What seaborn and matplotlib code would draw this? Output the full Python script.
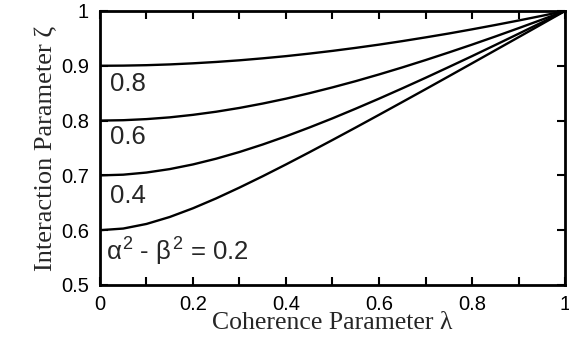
import seaborn as sns
import matplotlib.pyplot as plt
import matplotlib.ticker as mticker
import pandas as pd
import numpy as np

# coherence parameter values
lam = [0.0, 0.05, 0.1, 0.15, 0.2, 0.25, 0.3, 0.35, 0.4, 0.45, 0.5,
       0.55, 0.6, 0.65, 0.7, 0.75, 0.8, 0.85, 0.9, 0.95, 1.0]

# interaction parameter for each alpha^2 - beta^2 value
zeta_08 = [0.900, 0.9003, 0.9011, 0.9025, 0.9045, 0.9070, 0.9100, 0.9136, 0.9176, 0.9222, 0.9272,
           0.9327, 0.9386, 0.9450, 0.9518, 0.9589, 0.9665, 0.9744, 0.9826, 0.9911, 1.0]
zeta_06 = [0.800, 0.8007, 0.8027, 0.8059, 0.8105, 0.8162, 0.8231, 0.8311, 0.8400, 0.8499, 0.8606,
           0.8720, 0.8842, 0.8970, 0.9104, 0.9243, 0.9386, 0.9534, 0.9686, 0.9841, 1.0]
zeta_04 = [0.700, 0.7013, 0.7052, 0.7115, 0.7200, 0.7305, 0.7427, 0.7564, 0.7713, 0.7873, 0.8041,
           0.8218, 0.8400, 0.8588, 0.8780, 0.8977, 0.9176, 0.9379, 0.9584, 0.9791, 1.0]
zeta_02 = [0.600, 0.6030, 0.6114, 0.6241, 0.6400, 0.6581, 0.6778, 0.6985, 0.7200, 0.7421, 0.7646,
           0.7874, 0.8105, 0.8338, 0.8572, 0.8808, 0.9045, 0.9283, 0.9521, 0.9760, 1.0]

curve_labels = ["0.8", "0.6", "0.4", r"$\alpha^2$ - $\beta^2$ = 0.2"]
label_x = [0.021, 0.021, 0.021, 0.012]
label_y = [0.867, 0.770, 0.662, 0.560]

df = pd.DataFrame({
    "lam": lam * 4,
    "zeta": zeta_08 + zeta_06 + zeta_04 + zeta_02,
    "c": ["0.8"] * 21 + ["0.6"] * 21 + ["0.4"] * 21 + ["0.2"] * 21,
})

sns.set_style("ticks")
plt.rcParams['font.family'] = ['Liberation Sans', 'DejaVu Sans']
plt.rcParams['mathtext.fontset'] = 'custom'
plt.rcParams['mathtext.rm'] = 'Liberation Sans'
plt.rcParams['mathtext.it'] = 'Liberation Sans'

fig = plt.figure(figsize=(5.69, 3.39), dpi=100)
ax = fig.add_axes([0.1757, 0.1593, 0.8173, 0.8083])

sns.lineplot(data=df, x="lam", y="zeta", hue="c", palette=["black"] * 4,
             linewidth=1.7, legend=False, ax=ax)

for txt, xx, yy in zip(curve_labels, label_x, label_y):
    ax.text(xx, yy, txt, fontsize=18.5, va="center", ha="left")

ax.set_xlim(0, 1)
ax.set_ylim(0.5, 1)
ax.xaxis.set_major_locator(mticker.MultipleLocator(0.2))
ax.xaxis.set_minor_locator(mticker.MultipleLocator(0.1))
ax.yaxis.set_major_locator(mticker.MultipleLocator(0.1))
ax.xaxis.set_major_formatter(mticker.FormatStrFormatter('%g'))
ax.yaxis.set_major_formatter(mticker.FormatStrFormatter('%g'))
ax.tick_params(which="both", direction="in", top=True, right=True, width=1.5,
               labelsize=14.5, colors="black", length=6)
ax.tick_params(axis="x", which="both", pad=7)
ax.tick_params(axis="y", which="both", pad=8)
for s in ax.spines.values():
    s.set_linewidth(2)
    s.set_color("black")

ax.set_xlabel("Coherence Parameter λ", family=["Liberation Serif"], fontsize=18.5, labelpad=-1)
ax.set_ylabel("Interaction Parameter ζ", family=["Liberation Serif"], fontsize=19, labelpad=3)

fig.savefig("out.png", dpi=100)
